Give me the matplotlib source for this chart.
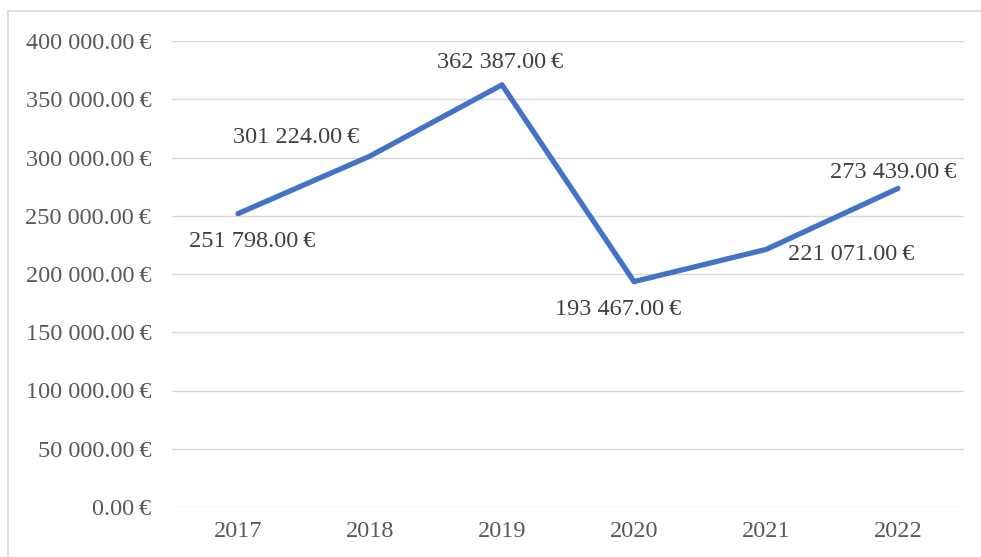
import matplotlib.pyplot as plt
from matplotlib.patches import Rectangle

YEARS = ["2017", "2018", "2019", "2020", "2021", "2022"]
REVENUE = [251798, 301224, 362387, 193467, 221071, 273439]
Y_TICKS = [0, 50000, 100000, 150000, 200000, 250000, 300000, 350000, 400000]

# label offsets in pixels (dx, dy), picked by eye from the reference
LABEL_OFFSETS = [(14, -28), (-74, 19), (-2, 22), (-16, -28), (85, -5), (-5, 16)]

LINE_COLOR = "#4472C4"
GRID_COLOR = "#d9d9d9"
TICK_COLOR = "#595959"
LABEL_COLOR = "#404040"
FONT = ["Liberation Serif", "DejaVu Serif"]
FONT_SIZE = 17.5


def euro(value: float) -> str:
    text = f"{value:,.2f}".replace(",", " ")
    return f"{text}\u2009€"


def main() -> None:
    plt.rcParams["font.family"] = FONT
    fig = plt.figure(figsize=(9.81, 5.57), dpi=100)
    W, H = 981, 557
    ax = fig.add_axes([172 / W, (H - 507) / H, (964 - 172) / W, (507 - 41) / H])

    x = list(range(len(YEARS)))
    ax.plot(x, REVENUE, color=LINE_COLOR, linewidth=3.8, solid_capstyle="round",
            solid_joinstyle="round", zorder=3)

    ax.set_xlim(-0.5, len(YEARS) - 0.5)
    ax.set_ylim(0, 400000)
    ax.set_yticks(Y_TICKS)
    ax.set_yticklabels([euro(v) for v in Y_TICKS])
    ax.set_xticks(x)
    ax.set_xticklabels(YEARS)

    ax.grid(axis="y", color=GRID_COLOR, linewidth=1.0)
    ax.set_axisbelow(True)
    for spine in ax.spines.values():
        spine.set_visible(False)
    ax.tick_params(axis="both", length=0, labelsize=FONT_SIZE, labelcolor=TICK_COLOR)
    ax.tick_params(axis="y", pad=15)
    ax.tick_params(axis="x", pad=10)

    for xi, value, (dx, dy) in zip(x, REVENUE, LABEL_OFFSETS):
        ax.annotate(euro(value), (xi, value), xytext=(dx, dy),
                    textcoords="offset pixels", ha="center", va="center",
                    fontsize=FONT_SIZE, color=LABEL_COLOR)

    fig.patches.append(Rectangle((8 / W, -0.1), 1.2, (H - 11) / H + 0.1,
                                 transform=fig.transFigure, fill=False,
                                 edgecolor=GRID_COLOR, linewidth=1.2))

    fig.savefig("out.png", dpi=100)
    plt.close(fig)


if __name__ == "__main__":
    main()
